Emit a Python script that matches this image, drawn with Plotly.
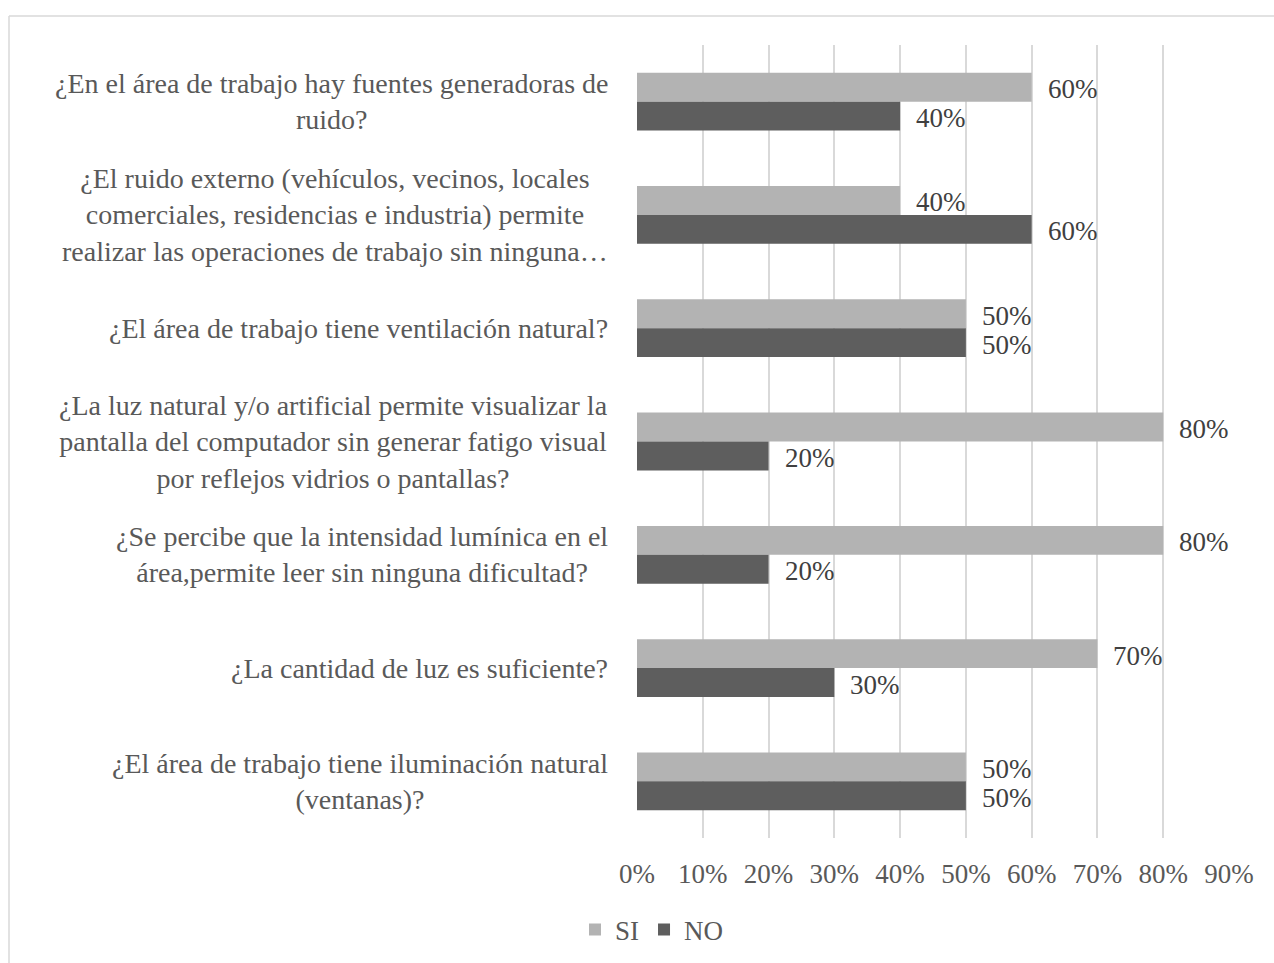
import plotly.graph_objects as go

# Survey questions (top to bottom) and response shares
questions = [
    "¿En el área de trabajo hay fuentes generadoras de<br>ruido?",
    "¿El ruido externo (vehículos, vecinos, locales<br>comerciales, residencias e industria) permite<br>realizar las operaciones de trabajo sin ninguna…",
    "¿El área de trabajo tiene ventilación natural?",
    "¿La luz natural y/o artificial permite visualizar la<br>pantalla del computador sin generar fatigo visual<br>por reflejos vidrios o pantallas?",
    "¿Se percibe que la intensidad lumínica en el<br>área,permite leer sin ninguna dificultad?",
    "¿La cantidad de luz es suficiente?",
    "¿El área de trabajo tiene iluminación natural<br>(ventanas)?",
]
si_values = [0.60, 0.40, 0.50, 0.80, 0.80, 0.70, 0.50]
no_values = [0.40, 0.60, 0.50, 0.20, 0.20, 0.30, 0.50]
x_ticks = [0.0, 0.1, 0.2, 0.3, 0.4, 0.5, 0.6, 0.7, 0.8, 0.9]

FONT = "Liberation Serif"
AXIS_COLOR = "#595959"
LABEL_COLOR = "#404040"
SI_COLOR = "#B3B3B3"
NO_COLOR = "#5E5E5E"

W, H = 1274, 963
L, R, T, B = 637, 45, 45, 125
plot_w = W - L - R
plot_h = H - T - B

fig = go.Figure()
fig.add_trace(go.Bar(y=questions, x=si_values, name="SI", orientation="h",
                     marker=dict(color=SI_COLOR, line=dict(width=0))))
fig.add_trace(go.Bar(y=questions, x=no_values, name="NO", orientation="h",
                     marker=dict(color=NO_COLOR, line=dict(width=0))))

bargap = 0.49
half = (1 - bargap) / 4  # offset of each bar centre from the group centre

annotations = []
for i, q in enumerate(questions):
    # category label, centred lines, right edge left of the axis
    annotations.append(dict(
        x=0, xref="paper", y=i, yref="y", text=q, showarrow=False,
        xanchor="right", yanchor="middle", align="center", xshift=-27,
        font=dict(family=FONT, size=28, color=AXIS_COLOR)))
    # value labels
    for val, off in ((si_values[i], -half), (no_values[i], half)):
        annotations.append(dict(
            x=val, xref="x", y=i + off, yref="y", text=f"{round(val*100)}%",
            showarrow=False, xanchor="left", yanchor="middle", xshift=14, yshift=-2,
            font=dict(family=FONT, size=27, color=LABEL_COLOR)))

def px_x(p):
    return (p - L) / plot_w

def px_y(p):
    return (H - B - p) / plot_h

shapes = [
    dict(type="line", xref="paper", yref="paper", x0=px_x(9), x1=px_x(W + 5),
         y0=px_y(16), y1=px_y(16), line=dict(color="#D9D9D9", width=1.5)),
    dict(type="line", xref="paper", yref="paper", x0=px_x(9), x1=px_x(9),
         y0=px_y(16), y1=px_y(H + 5), line=dict(color="#D9D9D9", width=1.5)),
]

fig.update_layout(
    width=W, height=H,
    margin=dict(l=L, r=R, t=T, b=B, autoexpand=False),
    paper_bgcolor="white", plot_bgcolor="white",
    barmode="group", bargap=bargap, bargroupgap=0,
    font=dict(family=FONT, size=27, color=AXIS_COLOR),
    xaxis=dict(range=[0, 0.9], tickvals=x_ticks, tickformat=".0%",
               showgrid=True, gridcolor="#D9D9D9", gridwidth=1.5,
               zeroline=False, showline=False, ticks="", ticklabelstandoff=17,
               tickfont=dict(family=FONT, size=27, color=AXIS_COLOR)),
    yaxis=dict(autorange="reversed", showticklabels=False, showgrid=False,
               zeroline=False, showline=False, ticks=""),
    legend=dict(orientation="h", x=px_x(652), xanchor="center",
                y=px_y(930), yanchor="middle",
                font=dict(family=FONT, size=27, color=AXIS_COLOR),
                itemwidth=30, tracegroupgap=0),
    annotations=annotations,
    shapes=shapes,
)

fig.write_html("out.html")
